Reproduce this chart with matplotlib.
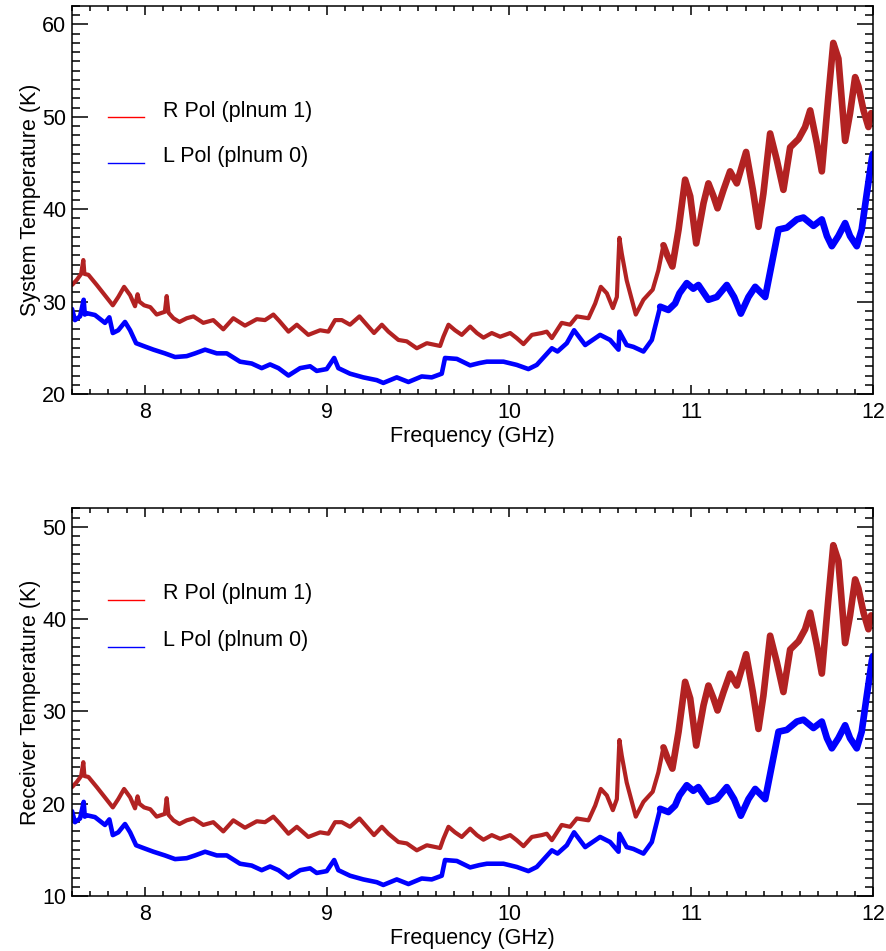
import numpy as np
import matplotlib.pyplot as plt
from matplotlib.ticker import MultipleLocator

plt.rcParams["font.family"] = ["Liberation Sans", "DejaVu Sans"]

# frequency (GHz) / system temperature (K)
freq_r = [7.600, 7.626, 7.650, 7.662, 7.668, 7.690, 7.736, 7.772, 7.824, 7.854,
          7.886, 7.919, 7.946, 7.960, 7.970, 7.996, 8.030, 8.065, 8.110, 8.120,
          8.130, 8.157, 8.190, 8.230, 8.267, 8.321, 8.376, 8.431, 8.486, 8.550,
          8.615, 8.660, 8.706, 8.739, 8.789, 8.835, 8.898, 8.963, 9.008, 9.045,
          9.082, 9.127, 9.179, 9.219, 9.259, 9.302, 9.338, 9.393, 9.439, 9.494,
          9.549, 9.622, 9.640, 9.668, 9.704, 9.741, 9.787, 9.824, 9.860, 9.906,
          9.952, 10.007, 10.043, 10.080, 10.126, 10.180, 10.208, 10.236, 10.290, 10.336,
          10.373, 10.437, 10.474, 10.505, 10.538, 10.571, 10.593, 10.607, 10.620, 10.647,
          10.697, 10.739, 10.790, 10.821, 10.849, 10.870, 10.898, 10.932, 10.968, 10.996,
          11.029, 11.069, 11.096, 11.124, 11.146, 11.179, 11.215, 11.252, 11.303, 11.340,
          11.371, 11.398, 11.435, 11.472, 11.508, 11.545, 11.591, 11.627, 11.655, 11.692,
          11.719, 11.755, 11.782, 11.810, 11.847, 11.874, 11.902, 11.920, 11.948, 11.975,
          11.990, 12.000]
tsys_r = [31.8, 32.35, 33.0, 34.5, 33.0, 32.9, 31.8, 30.9, 29.6, 30.5,
          31.6, 30.7, 29.5, 30.8, 30.0, 29.6, 29.4, 28.6, 28.9, 30.6,
          28.8, 28.2, 27.8, 28.2, 28.4, 27.7, 28.0, 27.0, 28.2, 27.4,
          28.1, 28.0, 28.6, 27.9, 26.75, 27.5, 26.4, 26.9, 26.75, 28.0,
          28.0, 27.5, 28.4, 27.5, 26.6, 27.5, 26.75, 25.85, 25.7, 24.95,
          25.5, 25.2, 26.2, 27.5, 26.9, 26.4, 27.3, 26.6, 26.1, 26.6,
          26.2, 26.6, 26.05, 25.4, 26.4, 26.6, 26.75, 26.05, 27.7, 27.5,
          28.4, 28.2, 29.8, 31.6, 30.9, 29.3, 30.5, 36.9, 35.2, 32.3,
          28.6, 30.2, 31.3, 33.4, 36.1, 35.0, 33.8, 37.8, 43.2, 41.4,
          36.3, 40.65, 42.8, 41.4, 40.1, 42.1, 44.1, 42.8, 46.2, 42.1,
          38.1, 41.7, 48.2, 45.3, 42.1, 46.7, 47.6, 48.9, 50.7, 47.1,
          44.1, 52.2, 58.0, 56.3, 47.4, 50.4, 54.3, 53.3, 50.7, 48.9,
          50.4, 50.0]

freq_l = [7.600, 7.616, 7.644, 7.664, 7.670, 7.681, 7.726, 7.781, 7.805, 7.824,
          7.854, 7.891, 7.919, 7.952, 7.992, 8.047, 8.110, 8.166, 8.230, 8.276,
          8.331, 8.395, 8.450, 8.523, 8.587, 8.642, 8.688, 8.734, 8.789, 8.853,
          8.908, 8.944, 8.999, 9.040, 9.063, 9.127, 9.200, 9.274, 9.310, 9.384,
          9.448, 9.521, 9.576, 9.631, 9.649, 9.714, 9.787, 9.838, 9.879, 9.970,
          10.043, 10.107, 10.153, 10.236, 10.267, 10.318, 10.358, 10.419, 10.501, 10.556,
          10.602, 10.607, 10.647, 10.684, 10.739, 10.785, 10.831, 10.876, 10.913, 10.937,
          10.977, 11.013, 11.041, 11.096, 11.142, 11.197, 11.237, 11.274, 11.316, 11.353,
          11.408, 11.445, 11.481, 11.527, 11.582, 11.618, 11.673, 11.719, 11.747, 11.774,
          11.810, 11.847, 11.874, 11.911, 11.938, 11.966, 11.994, 12.000]
tsys_l = [29.2, 28.0, 28.4, 30.2, 28.6, 28.75, 28.55, 27.7, 28.3, 26.6,
          26.9, 27.8, 26.9, 25.5, 25.2, 24.8, 24.4, 24.0, 24.1, 24.4,
          24.8, 24.4, 24.4, 23.5, 23.3, 22.8, 23.2, 22.8, 22.0, 22.8,
          23.0, 22.5, 22.7, 23.9, 22.8, 22.2, 21.8, 21.5, 21.2, 21.8,
          21.3, 21.9, 21.8, 22.2, 23.9, 23.8, 23.1, 23.35, 23.5, 23.5,
          23.15, 22.7, 23.15, 24.95, 24.6, 25.5, 26.9, 25.3, 26.4, 25.85,
          24.8, 26.75, 25.3, 25.1, 24.6, 25.85, 29.45, 29.1, 29.8, 30.9,
          32.0, 31.4, 31.8, 30.2, 30.5, 31.8, 30.5, 28.7, 30.5, 31.6,
          30.5, 34.2, 37.8, 38.0, 38.9, 39.1, 38.2, 38.9, 37.1, 36.0,
          37.1, 38.5, 37.1, 36.0, 37.8, 41.7, 45.5, 46.0]

# receiver temperature sits 10 K below the system temperature everywhere
rx_offset = 10.0

RED = "#b22222"
BLUE = "#0000ff"
FS = 15.5


def draw_panel(ax, fr, tr, fl, tl, ylim, ylabel, leg_y):
    fr, tr, fl, tl = map(np.asarray, (fr, tr, fl, tl))
    # noisy band: thin on the left, wider at the high-frequency end
    kw = dict(solid_joinstyle="round", solid_capstyle="round")
    ax.plot(fr, tr, color=RED, lw=3.0, **kw)
    ax.plot(np.where(fr >= 10.84, fr, np.nan), tr, color=RED, lw=4.8, **kw)
    ax.plot(fl, tl, color=BLUE, lw=3.3, **kw)
    ax.plot(np.where(fl >= 10.82, fl, np.nan), tl, color=BLUE, lw=4.8, **kw)

    ax.set_xlim(7.6, 12.0)
    ax.set_ylim(*ylim)
    ax.xaxis.set_major_locator(MultipleLocator(1))
    ax.xaxis.set_minor_locator(MultipleLocator(0.1))
    ax.yaxis.set_major_locator(MultipleLocator(10))
    ax.yaxis.set_minor_locator(MultipleLocator(1))
    ax.tick_params(which="both", direction="in", top=True, right=True,
                   width=1.1, labelsize=FS)
    ax.tick_params(axis="x", which="major", length=6.5, pad=6)
    ax.tick_params(axis="x", which="minor", length=3.5)
    ax.tick_params(axis="y", which="major", length=11.5, pad=4)
    ax.tick_params(axis="y", which="minor", length=6)
    for s in ax.spines.values():
        s.set_linewidth(1.1)
    ax.set_xlabel("Frequency (GHz)", fontsize=FS, labelpad=2)
    ax.set_ylabel(ylabel, fontsize=FS, labelpad=1)

    # hand-drawn legend, IDL style
    for (yl, yt), col, txt in zip(leg_y, ["red", "blue"],
                                   ["R Pol (plnum 1)", "L Pol (plnum 0)"]):
        ax.plot([0.045, 0.090], [yl, yl], color=col, lw=1.0,
                transform=ax.transAxes)
        ax.text(0.1136, yt, txt, fontsize=FS, va="center", ha="left",
                transform=ax.transAxes)


fig = plt.figure(figsize=(8.86, 9.51), dpi=100)
ax1 = fig.add_axes([0.0813, 0.5857, 0.904, 0.408])
ax2 = fig.add_axes([0.0813, 0.0578, 0.904, 0.4077])

draw_panel(ax1, freq_r, tsys_r, freq_l, tsys_l, (20, 62),
           "System Temperature (K)", [(0.714, 0.729), (0.595, 0.611)])
draw_panel(ax2, freq_r, np.asarray(tsys_r) - rx_offset,
           freq_l, np.asarray(tsys_l) - rx_offset, (10, 52),
           "Receiver Temperature (K)", [(0.763, 0.779), (0.642, 0.658)])

fig.savefig("out.png", dpi=100)
